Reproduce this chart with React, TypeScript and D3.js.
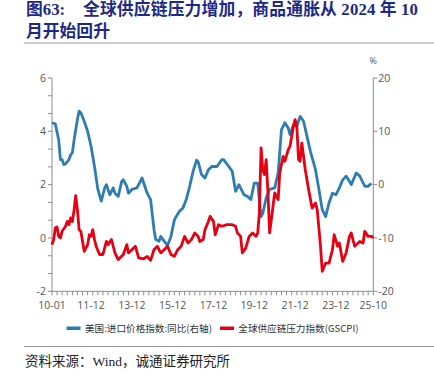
import React from "react";
import * as d3 from "d3";

const titleLine1a = "图63:";
const titleLine1b = "全球供应链压力增加，商品通胀从 2024 年 10";
const titleLine2 = "月开始回升";
const sourceText = "资料来源：Wind，诚通证券研究所";
const legendLabels = ["美国:进口价格指数:同比(右轴)", "全球供应链压力指数(GSCPI)"];

const leftTicks = [-2, 0, 2, 4, 6];
const rightTicks = [-20, -10, 0, 10, 20];
const xTickLabels = ["2010-01", "2011-12", "2013-12", "2015-12", "2017-12", "2019-12", "2021-12", "2023-12", "2025-10"];

// 美国进口价格指数同比 (%, right axis)
const importDates = [
  "2010-01","2010-03","2010-05","2010-06","2010-07","2010-08","2010-09","2010-11","2010-12","2011-01",
  "2011-02","2011-04","2011-05","2011-06","2011-08","2011-10","2011-12","2012-02","2012-04","2012-06",
  "2012-08","2012-09","2012-11","2013-01","2013-02","2013-04","2013-06","2013-07","2013-09","2013-10",
  "2013-12","2014-03","2014-05","2014-06","2014-07","2014-09","2014-11","2015-01","2015-02","2015-04",
  "2015-05","2015-07","2015-09","2015-11","2016-01","2016-02","2016-04","2016-06","2016-08","2016-10",
  "2016-12","2017-02","2017-03","2017-05","2017-07","2017-09","2017-11","2018-02","2018-05","2018-06",
  "2018-09","2018-11","2019-01","2019-03","2019-06","2019-08","2019-10","2019-12","2020-02","2020-03",
  "2020-04","2020-05","2020-07","2020-09","2020-12","2021-02","2021-04","2021-06","2021-08","2021-09",
  "2021-11","2022-01","2022-03","2022-05","2022-07","2022-09","2022-12","2023-02","2023-04","2023-06",
  "2023-08","2023-10","2023-12","2024-02","2024-04","2024-06","2024-08","2024-09","2024-12","2025-02",
  "2025-05","2025-07","2025-08","2025-09"
];
const importValues = [
  11.6, 11.4, 8.4, 4.7, 4.7, 3.75, 3.9, 4.7, 5.6, 6.0,
  8.4, 12.2, 13.8, 13.5, 11.9, 10.0, 7.2, 3.4, -0.9, -3.1,
  -0.6, 0, -1.9, -0.6, -1.6, -2.2, 0.6, 0.9, -0.3, -1.6,
  -0.9, -0.6, 0.6, 1.25, 0.3, -1.6, -2.8, -8.4, -10.3, -10.6,
  -9.7, -10.6, -11.4, -9.7, -6.6, -6.0, -5.0, -4.4, -2.8, -0.3,
  2.5, 4.6, 4.3, 1.9, 1.25, 2.8, 3.4, 3.4, 4.7, 4.7,
  3.4, 2.5, -1.25, 0, -1.9, -2.2, -2.8, 0.3, 0.3, -2.8,
  -6.0, -5.4, -2.5, -0.9, -0.6, 2.2, 10.3, 11.6, 10.6, 9.4,
  11.2, 10.9, 12.8, 11.9, 9.1, 6.25, 2.8, -0.9, -4.7, -6.0,
  -3.4, -1.6, -1.9, -0.6, 0.9, 1.6, 0.6, 0, 2.2, 1.6,
  -0.3, -0.3, 0, 0.2
];

// 全球供应链压力指数 GSCPI (left axis)
const gscpiDates = [
  "2010-01","2010-02","2010-03","2010-04","2010-05","2010-06","2010-07","2010-09","2010-10","2010-11",
  "2010-12","2011-01","2011-02","2011-03","2011-04","2011-05","2011-06","2011-08","2011-10","2011-11",
  "2011-12","2012-01","2012-02","2012-03","2012-05","2012-07","2012-09","2012-10","2012-12","2013-01",
  "2013-02","2013-04","2013-07","2013-09","2013-10","2013-12","2014-02","2014-04","2014-07","2014-09",
  "2014-11","2015-01","2015-03","2015-05","2015-07","2015-09","2015-11","2016-01","2016-03","2016-05",
  "2016-07","2016-09","2016-11","2017-01","2017-03","2017-04","2017-06","2017-07","2017-09","2017-10",
  "2017-12","2018-01","2018-03","2018-05","2018-08","2018-11","2019-01","2019-02","2019-04","2019-05",
  "2019-07","2019-09","2019-11","2020-01","2020-02","2020-03","2020-04","2020-05","2020-06","2020-07",
  "2020-08","2020-09","2020-11","2020-12","2021-02","2021-03","2021-05","2021-06","2021-08","2021-09",
  "2021-11","2021-12","2022-01","2022-02","2022-03","2022-04","2022-06","2022-08","2022-10","2022-12",
  "2023-01","2023-03","2023-04","2023-06","2023-08","2023-10","2023-11","2024-01","2024-02","2024-04",
  "2024-06","2024-08","2024-09","2024-11","2024-12","2025-02","2025-04","2025-05","2025-07","2025-09",
  "2025-10"
];
const gscpiValues = [
  -0.25, -0.06, 0.38, 0.41, 0.06, 0, 0.25, 0.44, 0.62, 0.5,
  0.75, 0.62, 1.06, 1.59, 1.06, 0.31, 0.25, -0.5, -0.25, 0.12,
  0.06, 0.31, -0.06, -0.31, -0.62, -0.62, -0.13, -0.25, -0.06, -0.31,
  -0.56, -0.81, -0.62, -0.25, -0.56, -0.44, -0.31, -0.75, -0.78, -0.69,
  -0.84, -0.44, -0.31, -0.56, -0.44, -0.31, -0.62, -0.69, -0.44, -0.31,
  0.06, -0.19, -0.06, 0.19, 0.06, -0.13, -0.06, 0.31, 0.62, 0.81,
  0.62, 0.12, 0.5, 0.44, 0.5, 0.5, 0.44, 0.19, 0.06, -0.56,
  -0.38, 0.06, 0.19, 0.06, 0.19, 0.94, 3.38, 2.56, 2.38, 2.94,
  1.75, 0.19, 1.19, 1.69, 1.44, 2.44, 3.06, 2.88, 3.31, 3.44,
  4.19, 4.44, 4.19, 2.94, 2.88, 3.56, 2.56, 1.81, 1.12, 1.31,
  1.06, -0.31, -1.25, -0.94, -0.94, -0.44, 0.12, -0.31, -0.19, -0.88,
  -0.56, 0.06, 0.19, -0.31, -0.25, -0.13, -0.19, 0.25, 0.06, 0.06,
  0.0
];

const parse = d3.timeParse("%Y-%m");
const fmt = d3.timeFormat("%y-%m");

export default function App() {
  const W = 434, H = 377;
  const left = 52, right = 373.3, top = 78, bottom = 291.3;

  const x = d3.scaleTime().domain([parse("2010-01")!, parse("2025-10")!]).range([left, right]);
  const yL = d3.scaleLinear().domain([-2, 6]).range([bottom, top]);
  const yR = d3.scaleLinear().domain([-20, 20]).range([bottom, top]);

  const importData = importDates.map((d, i) => ({ d: parse(d)!, v: importValues[i] }));
  const gscpiData = gscpiDates.map((d, i) => ({ d: parse(d)!, v: gscpiValues[i] }));

  const lineImport = d3.line<{ d: Date; v: number }>().x(p => x(p.d)).y(p => yR(p.v));
  const lineGscpi = d3.line<{ d: Date; v: number }>().x(p => x(p.d)).y(p => yL(p.v));

  const minorX = d3.timeMonth.every(3)!.range(parse("2010-01")!, d3.timeMonth.offset(parse("2025-10")!, 1));
  const minorL = d3.range(0, 13).map(i => -2 + (i * 2) / 3);

  const axisColor = "#8c8c8c";
  const tickFont = "'Open Sans', 'Noto Sans', sans-serif";
  const labelColor = "#555";
  const blue = "#2E7DB2";
  const red = "#E60012";
  const titleColor = "#1d2a85";
  const titleFont = "'Liberation Serif', 'Times New Roman', 'Noto Sans CJK SC', serif";

  return (
    <svg width={W} height={H} style={{ position: "absolute", left: 0, top: 0, background: "#fff" }}>
      <rect width={W} height={H} fill="#fff" />
      {/* Title */}
      <text x={26} y={15} fill={titleColor} fontFamily={titleFont} fontWeight="bold" fontSize={16.8}>{titleLine1a}</text>
      <text x={83} y={15} fill={titleColor} fontFamily={titleFont} fontWeight="bold" fontSize={16.8} textLength={335} lengthAdjust="spacing">{titleLine1b}</text>
      <text x={26} y={37} fill={titleColor} fontFamily={titleFont} fontWeight="bold" fontSize={16.8}>{titleLine2}</text>
      <line x1={24} x2={434} y1={43} y2={43} stroke="#999" strokeWidth={1} />

      {/* Left axis */}
      <line x1={left} x2={left} y1={top} y2={bottom} stroke={axisColor} />
      {minorL.map((t, i) => (
        <line key={"ml" + i} x1={left - 4} x2={left} y1={yL(t)} y2={yL(t)} stroke={axisColor} />
      ))}
      {leftTicks.map(t => (
        <text key={"lt" + t} x={left - 6} y={yL(t)} dy="0.35em" textAnchor="end" fontFamily={tickFont} fontSize={10.5} fill={labelColor}>{t}</text>
      ))}

      {/* Right axis */}
      <line x1={right} x2={right} y1={top} y2={bottom} stroke={axisColor} />
      {rightTicks.map(t => (
        <g key={"rt" + t}>
          <line x1={right} x2={right + 4} y1={yR(t)} y2={yR(t)} stroke={axisColor} />
          <text x={right + 5} y={yR(t)} dy="0.35em" textAnchor="start" fontFamily={tickFont} fontSize={10.5} fill={labelColor}>{t}</text>
        </g>
      ))}
      <text x={right} y={64} textAnchor="middle" fontFamily={tickFont} fontSize={9} fill={labelColor}>%</text>

      {/* X axis */}
      <line x1={left} x2={right} y1={bottom} y2={bottom} stroke={axisColor} />
      {minorX.map((d, i) => (
        <line key={"mx" + i} x1={x(d)} x2={x(d)} y1={bottom} y2={bottom + 4} stroke={axisColor} />
      ))}
      {xTickLabels.map(s => (
        <text key={"xt" + s} x={x(parse(s)!)} y={bottom + 14} dy="0.35em" textAnchor="middle" fontFamily={tickFont} fontSize={10.5} fill={labelColor}>{fmt(parse(s)!)}</text>
      ))}

      {/* Lines */}
      <path d={lineImport(importData)!} fill="none" stroke={blue} strokeWidth={2.8} strokeLinejoin="round" />
      <path d={lineGscpi(gscpiData)!} fill="none" stroke={red} strokeWidth={2.8} strokeLinejoin="round" />

      {/* Legend */}
      <rect x={66.5} y={326.5} width={14} height={3.5} fill={blue} />
      <text x={85} y={328.3} dy="0.35em" fontFamily="'Noto Sans CJK SC', sans-serif" fontSize={9.6} fill="#333">{legendLabels[0]}</text>
      <rect x={220} y={326.5} width={14} height={3.5} fill={red} />
      <text x={238.3} y={328.3} dy="0.35em" fontFamily="'Noto Sans CJK SC', sans-serif" fontSize={9.6} fill="#333">{legendLabels[1]}</text>

      {/* Footer */}
      <line x1={24} x2={434} y1={346.5} y2={346.5} stroke="#999" strokeWidth={1} />
      <text x={25} y={366} fontFamily="'Liberation Serif', 'Noto Sans CJK SC', serif" fontSize={13.5} fill="#222">{sourceText}</text>
    </svg>
  );
}
